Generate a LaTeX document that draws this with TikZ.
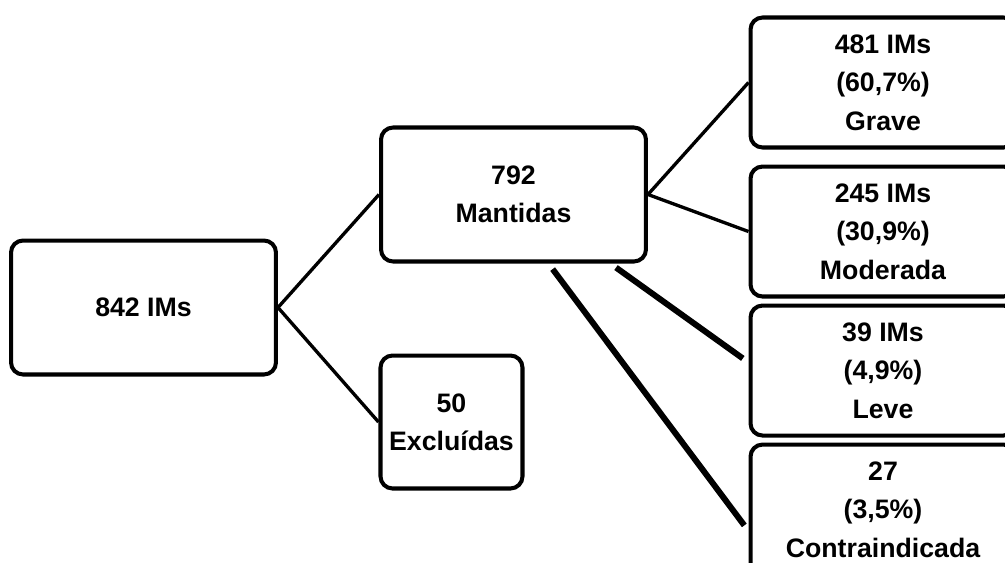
\documentclass[tikz,border=0pt]{standalone}
\usepackage{fontspec}
\setmainfont{Liberation Sans}
\usetikzlibrary{positioning,calc}

\begin{document}
\begin{tikzpicture}[
    x=0.02cm, y=-0.02cm,
    node distance=0.1cm,
    box/.style={
        rectangle, draw=black, line width=2.3pt, rounded corners=0.24cm,
        fill=white, minimum width=5.3cm, minimum height=2.6cm,
        align=center, inner sep=0pt,
        font=\fontsize{15.2}{21.8}\selectfont\bfseries
    },
    line/.style={line width=1.9pt},
    heavyline/.style={line width=3.4pt, shorten <=0.14cm, shorten >=0.14cm}
]
\clip (0,0) rectangle (1005,562);
\node[box, minimum height=2.68cm]                       (total)    at (143.5,307.5) {842 IMs};
\node[box, minimum height=2.68cm]                       (kept)     at (513.5,194.5) {792\\Mantidas};
\node[box, minimum width=2.84cm, minimum height=2.66cm] (excl)     at (451.5,422)   {50\\Excluídas};
\node[box]                                              (grave)    at (883,82.5)    {481 IMs\\(60,7\%)\\Grave};
\node[box, below=0.3cm of grave]                        (moderada) {245 IMs\\(30,9\%)\\Moderada};
\node[box, below=of moderada]                           (leve)     {39 IMs\\(4,9\%)\\Leve};
\node[box, below=of leve]                               (contra)   {27\\(3,5\%)\\Contraindicada};

\draw[line] (total.east) -- (kept.west);
\draw[line] (total.east) -- (excl.west);
\draw[line] (kept.east) -- (grave.west);
\draw[line] (kept.east) -- (moderada.west);
\draw[heavyline] ($(kept.south west)!0.86!(kept.south east)$) -- ($(leve.north west)!0.44!(leve.south west)$);
\draw[heavyline] ($(kept.south west)!0.63!(kept.south east)$) -- ($(contra.north west)!0.66!(contra.south west)$);
\end{tikzpicture}
\end{document}
